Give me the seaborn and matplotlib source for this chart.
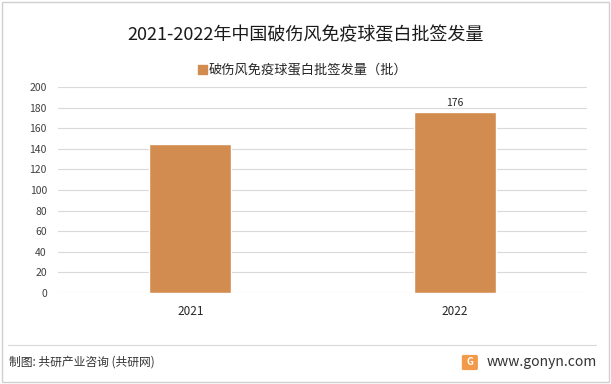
import matplotlib
matplotlib.use("Agg")
import matplotlib.pyplot as plt
import matplotlib.patches as patches
import seaborn as sns
import pandas as pd

years = ["2021", "2022"]
values = [145, 176]
labels = ["", "176"]
series_name = "破伤风免疫球蛋白批签发量（批）"
title = "2021-2022年中国破伤风免疫球蛋白批签发量"
footer_left = "制图: 共研产业咨询 (共研网)"
footer_right = "www.gonyn.com"

bar_color = "#D38C50"

sns.set_theme(style="white")
plt.rcParams['font.family'] = ['Noto Sans CJK SC', 'DejaVu Sans']

df = pd.DataFrame({"year": years, "value": values})

fig = plt.figure(figsize=(6.11, 3.84), dpi=100)
ax = fig.add_axes([0.095, 0.237, 0.866, 0.536])

sns.barplot(data=df, x="year", y="value", color=bar_color, width=0.31,
            saturation=1, ax=ax, zorder=3)
ax.set_xlim(-0.5, 1.5)
ax.set_ylim(0, 200)
ax.set_yticks(range(0, 201, 20))
ax.yaxis.grid(True, color="#D9D9D9", linewidth=0.8, zorder=0)
for s in ax.spines.values():
    s.set_visible(False)
ax.set_xlabel("")
ax.set_ylabel("")
ax.tick_params(axis="y", labelsize=7.5, colors="#404040", length=0, pad=8)
ax.tick_params(axis="x", labelsize=8.5, colors="#262626", length=0, pad=9)

for p, lab in zip(ax.patches, labels):
    if lab:
        ax.text(p.get_x() + p.get_width() / 2, p.get_height() + 4, lab,
                ha="center", va="bottom", fontsize=7.5, color="#262626")

fig.text(0.5, 0.908, title, ha="center", va="center", fontsize=13, color="#1a1a1a")

# legend
fig.patches.append(patches.Rectangle((0.324, 0.806), 0.015, 0.026, transform=fig.transFigure,
                                     color=bar_color))
fig.text(0.342, 0.818, series_name, ha="left", va="center", fontsize=9.5, color="#262626")

# frame and footer
fig.patches.append(patches.Rectangle((0.003, 0.004), 0.994, 0.99, transform=fig.transFigure,
                                     fill=False, edgecolor="#D0D0D0", linewidth=1))
fig.lines.append(plt.Line2D([0.013, 0.975], [0.102, 0.102], transform=fig.transFigure,
                            color="#D9D9D9", linewidth=0.8))
fig.text(0.014, 0.057, footer_left, ha="left", va="center", fontsize=8.5, color="#333333")
fig.patches.append(patches.FancyBboxPatch((0.759, 0.040), 0.020, 0.032, transform=fig.transFigure,
                                          boxstyle="round,pad=0.002", color="#F29A4A"))
fig.text(0.769, 0.056, "G", ha="center", va="center", fontsize=7, color="white", fontweight="bold")
fig.text(0.797, 0.057, footer_right, ha="left", va="center", fontsize=10, color="#333333")

fig.savefig("out.png", dpi=100)
